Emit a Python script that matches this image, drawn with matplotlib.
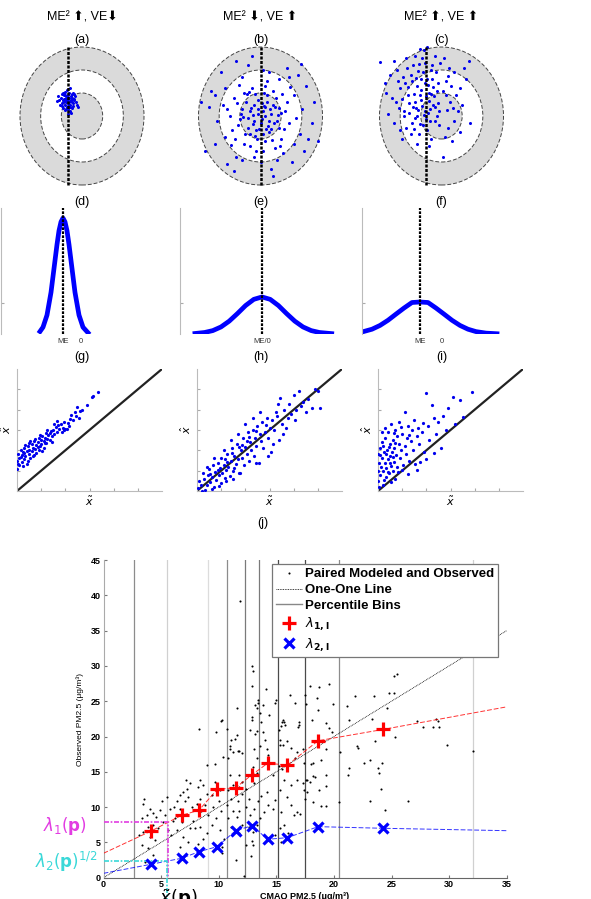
import matplotlib
matplotlib.use("Agg")
import matplotlib.pyplot as plt
from matplotlib.patches import Circle
from matplotlib.lines import Line2D

plt.rcParams['font.family'] = ['Liberation Sans', 'DejaVu Sans']
plt.rcParams['mathtext.fontset'] = 'dejavusans'

W, H = 591, 899

# ---------------- data ----------------
titles = ['ME² ⬆, VE⬇', 'ME² ⬇, VE ⬆', 'ME² ⬆, VE ⬆']
row1_tags = ['(a)', '(b)', '(c)']
row2_tags = ['(d)', '(e)', '(f)']
row3_tags = ['(g)', '(h)', '(i)']

# target diagrams: position of ME line and the scatter clouds
target_me = [-0.68, 0.0, -0.75]
a_pts = [(-0.9, 0.7), (-0.7, 0.9), (-0.5, 0.6), (-0.6, 0.4), (-0.8, 0.5), (-1.0, 0.8), (-0.4, 0.75),
         (-0.65, 1.0), (-0.75, 0.3), (-0.55, 0.85), (-0.85, 0.65), (-0.95, 0.55), (-0.45, 0.45),
         (-0.7, 0.6), (-0.6, 0.2), (-0.8, 1.05), (-1.1, 0.7), (-0.3, 0.6), (-0.5, 0.95), (-0.9, 0.35),
         (-0.7, 0.75), (-0.62, 0.5), (-0.78, 0.85), (-0.58, 0.65), (-0.88, 0.9), (-0.48, 0.35),
         (-1.05, 0.5), (-0.35, 0.85), (-0.72, 1.15), (-0.66, 0.45), (-0.82, 0.25), (-0.52, 0.7),
         (-0.92, 1.0), (-0.42, 0.55), (-0.76, 0.6), (-0.64, 0.8), (-1.2, 0.65), (-0.25, 0.5),
         (-0.68, 0.1), (-0.86, 0.75), (-0.56, 0.5), (-0.74, 0.4), (-0.98, 0.95), (-0.38, 0.7),
         (-0.6, 1.2), (-0.8, 0.65), (-0.5, 0.8), (-0.7, 0.55), (-1.15, 0.85), (-0.2, 0.4),
         (-0.9, 0.6), (-0.45, 1.0), (-0.66, 0.3), (-0.84, 0.9), (-0.54, 0.15), (-0.72, 0.7),
         (-0.62, 0.6), (-0.96, 0.45), (-0.4, 0.95), (-0.78, 0.8)]
b_pts = [(0.1, 0.2), (-0.3, 0.5), (0.4, -0.2), (-0.6, -0.1), (0.7, 0.4), (-0.2, -0.6), (0.3, 0.9),
         (-0.9, 0.3), (0.9, -0.5), (-0.5, -0.8), (0.2, -1.1), (-1.1, -0.4), (1.2, 0.2), (-0.4, 1.2),
         (0.6, 1.1), (-1.3, 0.8), (1.0, -1.0), (-0.8, -1.2), (0.0, -0.3), (0.5, 0.1), (-0.1, 0.7),
         (0.8, -0.2), (-0.7, 0.6), (0.2, 0.4), (-0.3, -0.2), (0.4, -0.7), (-0.5, 0.2), (0.1, -0.8),
         (1.4, -0.3), (-1.5, 0.0), (0.3, 1.5), (-0.2, -1.5), (1.6, 0.9), (-1.7, -0.9), (0.9, 1.6),
         (-0.9, 1.7), (1.1, -1.6), (-1.2, -1.8), (2.0, 0.3), (-2.1, -0.2), (0.1, 2.0), (0.0, -2.0),
         (2.3, -1.0), (-2.4, 1.1), (1.8, 1.8), (-1.9, 1.9), (1.5, -2.0), (-1.6, -2.1), (2.6, 0.6),
         (-2.7, -1.5), (0.5, -2.3), (-0.6, 2.2), (1.9, -0.8), (-1.8, 0.5), (0.7, -1.4), (-0.8, 1.0),
         (1.3, 0.6), (-1.4, -0.6), (0.6, 0.5), (-0.6, -0.5), (0.2, 0.0), (-0.1, 0.3), (0.35, -0.45),
         (-0.45, 0.35), (0.15, 1.0), (-0.15, -1.0), (1.0, 0.15), (-1.0, -0.15), (0.55, -1.05),
         (-0.55, 1.05), (0.75, 0.8), (-0.75, -0.8), (1.15, -0.55), (-1.15, 0.55), (0.05, 0.55),
         (-0.05, -0.55), (0.45, 0.3), (-0.35, -0.35), (0.25, -0.55), (-0.25, 0.95), (0.85, 0.05),
         (-0.85, -0.05), (1.7, -0.1), (-1.6, 0.3), (0.4, 1.9), (-0.3, -1.8), (2.2, 1.3), (-2.2, -1.2),
         (1.3, 2.1), (-1.2, 2.4), (2.5, -0.3), (-2.5, 0.4), (0.8, -1.9), (-0.9, -1.9), (1.45, 1.25),
         (-1.45, -1.25), (0.65, -0.3), (-0.65, 0.95), (0.3, 0.6), (-0.35, 0.05), (0.05, -0.15),
         (1.05, 0.95), (-1.05, 1.35), (0.95, -1.3), (-1.25, -1.0), (0.2, 1.3), (-0.5, -1.3),
         (1.6, -1.2), (-1.7, 1.2), (0.1, -1.5), (2.8, -1.1), (-2.9, 0.6), (1.4, 1.7), (-0.4, 2.6),
         (0.6, -2.6), (-1.3, -2.4), (1.95, 2.25), (2.1, -1.5), (-2.2, 0.9), (0.9, 0.35), (-0.95, 0.1),
         (0.5, -0.55), (-0.25, -0.85), (0.15, 0.45), (-0.1, 0.1)]
c_pts = [(-1.0, 0.7), (-0.6, 1.0), (-1.4, 0.4), (-0.8, 0.2), (-1.2, 1.3), (-0.4, 0.5), (-1.6, 0.9),
         (-0.7, 1.6), (-1.3, -0.1), (-0.2, 1.1), (-1.8, 0.2), (-0.9, -0.4), (-0.1, 0.2), (-1.5, 1.8),
         (-0.5, 2.0), (-2.0, 1.2), (0.2, 1.5), (-1.1, -0.8), (-2.2, 0.6), (0.4, 0.6), (-0.3, -0.2),
         (-1.7, -0.5), (-0.8, 2.3), (-1.3, 2.6), (-1.05, 2.9), (-0.85, 2.85), (-2.5, 1.8),
         (-2.98, 2.35), (-2.7, 1.0), (0.6, 1.9), (1.33, 2.4), (0.9, 1.2), (0.3, -0.5), (-0.5, -1.0),
         (0.07, -1.8), (-0.6, -1.3), (0.5, -1.1), (-2.3, -0.3), (-1.9, -1.0), (0.8, 0.2), (-1.2, 0.0),
         (-0.95, 0.45), (-0.75, 0.85), (-1.35, 0.95), (-1.15, 0.25), (-0.55, 0.3), (-1.55, 0.55),
         (-0.65, 1.35), (-1.25, 1.65), (-0.35, 0.85), (-1.75, 1.45), (-0.45, 1.6), (-1.45, -0.3),
         (-0.15, 0.55), (-2.05, 0.35), (-0.25, 1.9), (-1.65, 2.1), (0.05, 1.1), (-2.4, 0.8),
         (0.25, 0.25), (-0.9, 1.9), (-1.05, -0.35), (-0.7, -0.6), (-1.85, 1.7), (0.45, 1.3),
         (-2.15, 2.0), (-0.05, 2.3), (0.7, 0.9), (-1.4, 2.2), (-0.3, 2.6), (1.0, 0.5), (1.2, 1.6),
         (-2.6, 0.1), (-1.0, 1.15), (-1.3, 0.6), (-0.85, 0.05), (-0.6, 0.65), (-1.6, 1.25),
         (-0.4, 1.25), (-1.9, 0.75), (-0.2, 0.0), (-1.15, 1.95), (-0.55, -0.2), (-2.0, -0.6),
         (0.15, -0.9), (-0.1, -0.4), (-0.95, 2.5), (-1.7, 2.5), (0.35, 2.1), (0.1, 2.5), (-2.3, 2.4),
         (-1.5, -0.8), (0.6, -0.2), (1.4, -0.3), (0.9, -0.7), (-0.7, 3.0), (-1.2, -1.2), (-2.75, 1.45),
         (1.1, 2.1), (-0.8, 1.45), (-1.05, 0.9), (-1.25, 0.35), (-0.5, 0.95), (-1.45, 1.5),
         (-0.65, 0.15), (-1.8, 0.0), (-0.3, 0.4), (-1.0, 1.6), (-2.1, 1.5), (0.2, 0.9), (-0.75, -0.15),
         (-1.35, -0.55), (0.55, 0.35), (-0.15, 1.45), (-1.1, 2.25), (-0.45, 2.2), (-1.55, 0.15),
         (0.3, 1.75)]
target_pts = [a_pts, b_pts, c_pts]

# error distributions
dist_me = [-0.9, 0.0, -1.1]
d_x = [-2.05, -1.9, -1.7, -1.5, -1.35, -1.2, -1.1, -1.0, -0.9, -0.8, -0.7, -0.6, -0.45, -0.3, -0.1, 0.1, 0.35]
d_y = [0.02, 0.054, 0.15, 0.33, 0.52, 0.71, 0.82, 0.89, 0.92, 0.89, 0.82, 0.71, 0.52, 0.33, 0.15, 0.054, 0.01]
e_x = [-3.27, -2.8, -2.4, -2.0, -1.6, -1.2, -0.8, -0.4, 0.0, 0.4, 0.8, 1.2, 1.6, 2.0, 2.4, 2.8, 3.4]
e_y = [0.004, 0.012, 0.027, 0.056, 0.102, 0.162, 0.226, 0.275, 0.294, 0.275, 0.226, 0.162, 0.102, 0.056, 0.027, 0.012, 0.003]
f_x = [-4.0, -3.5, -3.1, -2.7, -2.3, -1.9, -1.5, -1.1, -0.7, -0.3, 0.1, 0.5, 0.9, 1.3, 1.7, 2.2, 2.75]
f_y = [0.016, 0.038, 0.068, 0.109, 0.158, 0.206, 0.25, 0.254, 0.25, 0.206, 0.158, 0.109, 0.068, 0.038, 0.019, 0.007, 0.002]
dist_curves = [(d_x, d_y), (e_x, e_y), (f_x, f_y)]
dist_ticks = [[-0.9, 0.0], [0.0], [-1.1, 0.0]]
dist_ticklabels = [['ME', '0'], ['ME/0'], ['ME', '0']]

# modeled vs observed scatter
g_pts = [(0.0, 1.1), (0.0, 1.5), (0.05, 1.8), (0.1, 1.3), (0.1, 1.6), (0.15, 2.0), (0.2, 1.45), (0.2, 1.75),
         (0.25, 1.9), (0.3, 1.55), (0.3, 2.1), (0.35, 1.7), (0.4, 1.95), (0.4, 1.35), (0.45, 2.2), (0.5, 1.8),
         (0.5, 2.0), (0.55, 1.6), (0.6, 2.3), (0.6, 1.95), (0.65, 2.1), (0.7, 1.75), (0.7, 2.45), (0.75, 2.05),
         (0.8, 2.25), (0.8, 1.85), (0.85, 2.4), (0.9, 2.0), (0.9, 2.6), (0.95, 2.2), (1.0, 2.5), (1.0, 2.3),
         (1.05, 2.7), (1.1, 2.45), (1.1, 2.1), (1.15, 2.6), (1.2, 2.35), (1.2, 2.85), (1.25, 2.55), (1.3, 2.75),
         (1.35, 2.5), (1.4, 2.95), (1.45, 2.7), (1.5, 3.0), (1.55, 2.8), (1.6, 3.15), (1.65, 2.9), (1.7, 3.25),
         (1.75, 3.05), (1.8, 3.3), (1.9, 3.1), (1.95, 3.4), (2.0, 3.05), (2.05, 3.05), (2.1, 3.35), (2.2, 3.55),
         (2.25, 3.75), (2.3, 3.5), (2.4, 3.9), (2.45, 3.7), (2.5, 4.15), (2.6, 3.95), (2.7, 4.0), (2.9, 4.25),
         (3.1, 4.6), (3.15, 4.65), (3.35, 4.85), (0.25, 1.25), (0.45, 1.5), (0.15, 1.65), (0.35, 2.25),
         (0.55, 2.45), (0.65, 1.7), (0.75, 2.55), (0.95, 2.75), (1.05, 1.95), (1.25, 3.0), (1.45, 2.4),
         (1.55, 3.3), (1.85, 2.9), (0.05, 1.35), (0.3, 1.85), (0.5, 2.35), (0.85, 2.15), (1.15, 2.35),
         (1.35, 2.85), (1.65, 3.45), (2.15, 3.2), (2.55, 3.6), (1.95, 3.0)]
h_pts = [(0.05, 0.15), (0.1, 0.5), (0.2, 0.0), (0.3, 0.6), (0.25, 0.9), (0.4, 0.3), (0.45, 0.8), (0.5, 1.1),
         (0.55, 0.45), (0.6, 0.7), (0.65, 1.3), (0.7, 0.2), (0.75, 0.95), (0.8, 0.55), (0.85, 1.4), (0.9, 0.8),
         (0.95, 1.15), (1.0, 0.4), (1.0, 1.6), (1.05, 0.9), (1.1, 1.3), (1.15, 0.65), (1.2, 1.05), (1.25, 1.8),
         (1.3, 1.2), (1.35, 0.75), (1.4, 1.5), (1.45, 2.1), (1.5, 1.0), (1.55, 1.7), (1.6, 1.35), (1.65, 2.3),
         (1.7, 1.55), (1.75, 0.9), (1.8, 2.0), (1.85, 1.6), (1.9, 2.6), (1.95, 1.3), (2.0, 2.15), (2.05, 1.8),
         (2.1, 2.9), (2.15, 1.5), (2.2, 2.4), (2.25, 2.0), (2.3, 3.0), (2.35, 1.7), (2.4, 2.6), (2.45, 2.2),
         (2.5, 3.2), (2.55, 1.4), (2.6, 2.8), (2.65, 2.45), (2.7, 3.4), (2.75, 2.1), (2.8, 2.9), (2.9, 3.6),
         (2.95, 2.6), (3.0, 3.1), (3.05, 1.9), (3.1, 3.5), (3.15, 2.3), (3.2, 3.0), (3.3, 3.7), (3.4, 2.5),
         (3.5, 3.3), (3.6, 4.0), (3.7, 3.1), (3.8, 4.3), (3.9, 3.8), (4.0, 4.7), (4.05, 3.5), (4.2, 4.9),
         (4.3, 4.2), (4.5, 3.9), (4.6, 4.5), (4.75, 4.1), (4.9, 5.0), (5.0, 4.9), (5.1, 4.1), (2.46, 1.36),
         (1.78, 0.87), (0.35, 0.05), (0.15, 0.3), (0.6, 0.1), (0.9, 0.25), (1.2, 0.5), (1.5, 0.6), (0.4, 1.2),
         (0.7, 1.6), (1.1, 2.0), (1.4, 2.5), (1.7, 2.8), (2.0, 3.3), (2.3, 3.6), (2.6, 3.9), (1.25, 1.45),
         (1.55, 1.15), (1.85, 2.25), (2.15, 2.65), (2.45, 2.95), (0.55, 0.85), (0.85, 1.05), (1.15, 1.55),
         (1.45, 1.85), (1.75, 2.15), (2.05, 2.45), (3.25, 3.9), (3.55, 2.8), (2.85, 3.25), (3.35, 4.3),
         (2.95, 1.7), (3.45, 4.55), (4.1, 4.0), (4.4, 4.4), (3.75, 3.6)]
i_pts = [(0.0, 0.5), (0.02, 1.0), (0.05, 1.4), (0.0, 1.8), (0.08, 2.1), (0.1, 0.8), (0.12, 1.2), (0.15, 1.6),
         (0.18, 2.4), (0.2, 0.3), (0.22, 1.0), (0.25, 1.9), (0.28, 1.4), (0.3, 2.6), (0.32, 0.7), (0.35, 1.15),
         (0.38, 2.0), (0.4, 1.55), (0.42, 2.9), (0.45, 0.9), (0.48, 1.7), (0.5, 2.3), (0.52, 1.25), (0.55, 3.3),
         (0.58, 1.9), (0.6, 1.0), (0.62, 2.5), (0.65, 1.45), (0.68, 2.1), (0.7, 3.0), (0.72, 0.6), (0.75, 1.75),
         (0.78, 2.7), (0.8, 1.2), (0.85, 2.3), (0.88, 3.4), (0.9, 1.6), (0.95, 2.0), (1.0, 2.8), (1.05, 1.3),
         (1.1, 3.88), (1.12, 2.2), (1.15, 1.8), (1.2, 2.6), (1.25, 3.2), (1.3, 1.5), (1.35, 2.45), (1.4, 3.0),
         (1.45, 2.0), (1.5, 3.5), (1.55, 1.35), (1.6, 2.7), (1.65, 3.1), (1.7, 2.3), (1.8, 2.9), (1.87, 3.33),
         (1.9, 1.9), (1.99, 4.81), (2.05, 3.2), (2.1, 2.5), (2.24, 4.24), (2.3, 3.6), (2.4, 2.8), (2.5, 3.4),
         (2.6, 2.1), (2.7, 3.7), (2.8, 3.0), (2.9, 4.1), (3.12, 4.61), (3.2, 3.3), (3.4, 4.48), (3.5, 3.63),
         (3.87, 4.86), (0.05, 0.2), (0.15, 2.9), (0.25, 0.55), (0.3, 3.1), (0.45, 2.15), (0.55, 0.45),
         (0.6, 1.65), (0.7, 2.35), (0.82, 0.95), (1.0, 1.05), (1.25, 0.85), (1.6, 1.05), (0.1, 1.75),
         (0.35, 1.8), (0.65, 2.85), (0.95, 3.15), (1.3, 2.75), (2.0, 1.55), (2.3, 1.85), (1.75, 1.45),
         (0.2, 2.2), (0.4, 0.95), (0.5, 1.4)]
pair_pts = [g_pts, h_pts, i_pts]

# (j) CMAQ vs observed PM2.5
bins = [2.67, 5.48, 9.04, 10.68, 12.27, 13.51, 15.16, 17.48, 20.45, 32.07]
bin_shades = ['#8c8c8c', '#d0d0d0', '#dcdcdc', '#8c8c8c', '#7a7a7a', '#7a7a7a', '#4a4a4a', '#4a4a4a', '#8c8c8c', '#d0d0d0']
lam_x = [4.12, 6.78, 8.28, 9.87, 11.47, 12.9, 14.24, 15.97, 18.63, 24.27]
lam1 = [6.6, 8.84, 9.55, 12.5, 12.75, 14.6, 16.2, 15.96, 19.4, 21.0]
lam2 = [1.9, 2.75, 3.68, 4.4, 6.66, 7.37, 5.44, 5.67, 7.23, 7.0]
lam1_ends = [3.46, 24.2]   # fitted line at x=0 and x=35
lam2_ends = [0.62, 6.66]
p_x = 5.57
lam1_p = 7.93
p_x2 = 5.48
lam2_p = 2.41
j_pts = [(3.54, 11.1), (3.45, 10.4), (4.03, 9.8), (4.32, 9.1), (3.74, 8.9), (3.3, 8.4), (4.6, 8.6), (4.32, 7.5),
         (3.9, 7.2), (4.75, 7.0), (3.45, 6.5), (4.03, 5.8), (4.47, 5.3), (3.3, 4.6), (3.9, 4.2), (4.32, 3.2),
         (3.6, 2.2), (4.9, 9.6), (5.2, 7.9), (3.1, 6.0),
         (5.48, 11.5), (5.05, 10.8), (5.8, 9.8), (5.3, 8.9), (6.0, 8.0), (5.6, 6.7), (5.9, 6.0),
         (7.16, 13.8), (7.5, 13.4), (7.27, 12.5), (6.9, 12.2), (6.64, 11.7), (7.36, 11.5), (6.35, 10.8),
         (7.07, 10.8), (7.65, 10.0), (6.1, 10.0), (6.64, 9.7), (7.2, 8.9), (6.2, 8.4), (6.8, 7.9), (7.5, 7.0),
         (6.35, 6.7), (6.9, 5.8), (7.36, 5.1), (6.64, 4.4),
         (8.37, 13.8), (8.66, 13.1), (8.23, 12.8), (8.95, 11.9), (8.37, 11.2), (8.08, 10.5), (8.8, 10.3),
         (8.5, 9.4), (9.1, 8.9), (7.8, 8.0), (8.37, 7.2), (7.94, 7.0), (8.95, 6.3), (8.66, 5.5), (8.23, 4.8),
         (8.25, 21.1), (9.75, 20.6), (9.67, 16.1), (8.95, 16.0),
         (9.67, 13.6), (10.1, 12.4), (9.4, 11.7), (10.0, 10.8), (9.5, 10.0), (10.16, 9.4), (9.8, 8.4),
         (9.4, 7.5), (10.1, 6.7), (10.45, 5.5), (10.25, 4.4), (10.3, 3.5),
         (10.16, 22.2), (10.3, 22.3), (10.68, 21.06), (10.4, 17.1), (10.83, 17.0), (10.97, 18.3),
         (11.26, 17.8), (11.78, 17.9), (11.55, 20.2), (11.4, 19.6), (11.05, 19.5), (11.0, 18.6), (11.7, 17.9),
         (12.0, 17.6), (11.84, 39.2), (11.55, 24.1),
         (11.8, 14.5), (12.0, 13.6), (11.8, 12.8), (12.0, 11.9), (11.7, 10.8), (11.8, 9.4), (11.55, 8.6),
         (12.0, 7.5), (11.8, 6.3), (12.4, 4.6),
         (11.0, 14.5), (11.26, 13.1), (10.83, 12.4), (11.1, 11.2), (10.68, 10.3), (11.26, 9.4), (10.83, 8.4),
         (11.1, 7.2), (11.5, 2.5), (12.2, 0.3),
         (12.7, 20.9), (12.85, 22.8), (12.9, 22.3), (13.14, 20.3), (13.3, 20.8), (13.4, 24.8), (13.3, 24.1),
         (13.14, 24.5), (12.85, 30.0), (12.94, 29.3), (12.85, 27.1), (13.4, 25.2),
         (13.1, 18.3), (13.3, 17.0), (13.0, 15.7), (13.3, 14.8), (13.1, 13.4), (13.4, 10.8), (13.1, 9.8),
         (13.3, 7.5), (13.0, 6.5), (12.85, 5.2), (13.0, 4.6), (12.8, 3.1),
         (12.4, 12.6), (12.6, 11.2), (12.4, 10.0), (12.7, 8.9), (12.6, 7.2),
         (13.7, 22.0), (13.6, 18.6), (14.15, 18.3), (14.3, 17.4), (13.87, 20.6), (14.0, 19.5), (14.4, 23.1),
         (14.1, 26.7), (13.86, 24.5), (13.6, 23.3),
         (14.7, 14.6), (14.15, 12.1), (13.7, 11.6), (14.3, 10.3), (13.9, 9.35), (13.6, 8.4), (14.9, 11.0),
         (14.7, 9.8), (14.9, 6.0), (15.0, 25.2), (14.9, 24.8),
         (15.45, 21.5), (15.7, 22.0), (17.0, 21.6), (15.3, 18.8), (15.9, 19.3), (16.3, 18.4), (16.8, 17.8),
         (17.3, 18.3), (16.6, 17.0), (15.2, 15.8), (15.5, 15.4),
         (15.7, 13.9), (16.3, 13.2), (16.8, 13.9), (17.3, 13.4), (15.3, 12.4), (15.9, 11.5), (16.3, 10.3),
         (16.8, 9.35), (15.45, 9.35), (16.5, 8.9),
         (15.3, 7.0), (15.7, 7.5), (15.45, 5.1), (15.2, 20.9), (15.5, 22.0), (15.6, 22.3), (15.75, 21.6),
         (15.3, 19.5), (15.6, 18.8), (16.9, 21.4), (17.0, 22.0), (16.2, 25.9), (16.6, 24.7), (17.1, 9.0),
         (16.0, 6.3),
         (18.06, 22.3), (19.35, 21.9), (19.58, 21.25), (19.84, 20.6), (17.4, 16.3), (18.2, 16.2), (18.0, 16.1),
         (18.9, 16.7), (19.3, 18.2), (18.2, 14.4), (18.4, 14.2), (19.3, 14.5), (17.6, 13.8), (17.7, 13.9),
         (17.9, 13.5), (19.3, 13.0), (17.4, 12.4), (17.7, 12.1), (18.7, 12.4), (17.5, 11.1), (18.2, 10.7),
         (18.9, 10.2), (19.3, 10.2), (20.4, 10.7), (20.5, 17.8),
         (19.6, 27.5), (18.7, 27.0), (17.5, 25.9), (18.5, 25.5), (17.6, 24.6), (19.9, 24.6), (18.6, 23.8),
         (17.9, 27.1),
         (21.3, 22.3), (23.3, 22.5), (27.2, 22.2), (28.9, 22.5), (29.0, 22.2), (27.7, 21.3), (28.6, 21.4),
         (29.1, 21.4), (25.3, 20.0), (23.6, 19.4), (22.0, 18.6), (22.1, 18.4), (29.8, 18.8), (32.1, 18.0),
         (23.1, 16.7), (22.6, 16.3), (24.2, 16.3), (23.8, 15.5), (21.3, 15.5), (21.2, 14.6), (23.9, 14.9),
         (24.1, 12.6), (23.1, 10.9), (26.4, 10.9), (24.4, 9.6),
         (25.2, 28.6), (25.5, 28.8), (24.8, 26.2), (25.2, 26.2), (21.8, 25.8), (23.5, 25.8), (21.1, 24.3),
         (24.6, 24.0)]


def box(l, t, r, b):
    # pixel box (from top-left) -> figure fraction
    return [l / W, 1 - b / H, (r - l) / W, (b - t) / H]


def fx(px):
    return px / W


def fy(py):
    return 1 - py / H


fig = plt.figure(figsize=(W / 100, H / 100), dpi=100)
blue = '#0000ff'

# ---------- row 1: targets ----------
centers = [82, 260.5, 441.5]
for k in range(3):
    cx = centers[k]
    ax = fig.add_axes(box(cx - 68.2, 116 - 75.9, cx + 68.2, 116 + 75.9))
    ax.set_xlim(-3.3, 3.3)
    ax.set_ylim(-3.3, 3.3)
    ax.axis('off')
    for r, fc in zip([3, 2, 1], ['#dadada', 'white', '#dadada']):
        ax.add_patch(Circle((0, 0), r, facecolor=fc, edgecolor='#444444', lw=0.7, ls=(0, (4, 2))))
    xs, ys = zip(*target_pts[k])
    ax.plot(xs, ys, 'o', color='#0000ee', ms=2.2, mew=0, zorder=3, clip_on=False)
    ax.plot([target_me[k]] * 2, [-3, 3], color='k', lw=1.8, ls=(0, (1.2, 0.6)), zorder=4)
    fig.text(fx(cx), fy(17), titles[k], ha='center', va='center', fontsize=9)
    fig.text(fx(cx), fy(40), row1_tags[k], ha='center', va='center', fontsize=9)

# ---------- row 2: error distributions ----------
lefts2 = [(1, 161), (180, 344), (362, 522)]
for k in range(3):
    l, r = lefts2[k]
    ax = fig.add_axes(box(l, 208, r, 334))
    ax.set_xlim(-4, 4)
    ax.set_ylim(0, 1)
    cx_, cy_ = dist_curves[k]
    ax.plot(cx_, cy_, color=blue, lw=3.4, solid_joinstyle='round')
    ax.axvline(dist_me[k], color='k', lw=1.6, ls=(0, (1.2, 0.6)))
    for s in ['top', 'right', 'bottom']:
        ax.spines[s].set_visible(False)
    ax.spines['left'].set_color('#bbbbbb')
    ax.spines['left'].set_linewidth(0.8)
    ax.set_yticks([0.246])
    ax.set_yticklabels([])
    ax.tick_params(axis='y', direction='in', length=2, color='#aaaaaa')
    ax.set_xticks(dist_ticks[k])
    ax.set_xticklabels(dist_ticklabels[k], fontsize=5.5, color='#333333')
    ax.tick_params(axis='x', length=0, pad=3)
    fig.text(fx(centers[k]), fy(202), row2_tags[k], ha='center', va='center', fontsize=9)

# ---------- row 3: modeled vs observed ----------
lefts3 = [17, 197, 378]
for k in range(3):
    l = lefts3[k]
    ax = fig.add_axes(box(l, 369, l + 145, 491))
    ax.set_xlim(0, 6)
    ax.set_ylim(0, 6)
    ax.plot([0, 6], [0, 6], color='#222222', lw=1.6, zorder=2)
    xs, ys = zip(*pair_pts[k])
    ax.plot(xs, ys, 'o', color='#0000ee', ms=2.3, mew=0, zorder=3)
    for s in ['top', 'right']:
        ax.spines[s].set_visible(False)
    for s in ['left', 'bottom']:
        ax.spines[s].set_color('#bbbbbb')
        ax.spines[s].set_linewidth(0.8)
    ax.set_xticks([1, 2, 3, 4, 5])
    ax.set_xticklabels(['', '', r'$\tilde{x}$', '', ''], fontsize=8)
    ax.set_yticks([1, 2, 3, 4, 5])
    ax.set_yticklabels(['', '', r'$\hat{x}$', '', ''], fontsize=8, rotation=90, va='center')
    ax.tick_params(direction='in', length=2, color='#aaaaaa', pad=3)
    fig.text(fx(centers[k]), fy(357), row3_tags[k], ha='center', va='center', fontsize=9)

fig.text(fx(263), fy(523), '(j)', ha='center', va='center', fontsize=9)

# ---------- (j) main panel ----------
ax = fig.add_axes(box(103.5, 560, 506.7, 877.7))
ax.set_xlim(0, 35)
ax.set_ylim(0, 45)
for b, c in zip(bins, bin_shades):
    ax.axvline(b, color=c, lw=0.9, zorder=1)
ax.plot([0, 35], [0, 35], color='k', lw=0.6, ls=(0, (1, 1)), zorder=2)
jx, jy = zip(*j_pts)
ax.plot(jx, jy, 'o', color='k', ms=1.5, mew=0, zorder=3)
ax.plot([0] + lam_x + [35], [lam1_ends[0]] + lam1 + [lam1_ends[1]],
        color='red', lw=0.7, ls=(0, (5, 2)), alpha=0.8, zorder=4)
ax.plot([0] + lam_x + [35], [lam2_ends[0]] + lam2 + [lam2_ends[1]],
        color='blue', lw=0.7, ls=(0, (5, 2)), alpha=0.8, zorder=4)
ax.plot(lam_x, lam1, '+', color='red', ms=10, mew=2.3, zorder=5)
ax.plot(lam_x, lam2, 'x', color='blue', ms=7, mew=2.3, zorder=5)

mag = '#e23ce2'
cya = '#3ad8d8'
ax.plot([0, p_x, p_x], [lam1_p, lam1_p, 0], color=mag, lw=1.2, ls=(0, (3, 1, 1, 1)), zorder=4)
ax.plot([0, p_x2, p_x2], [lam2_p, lam2_p, -3.1], color=cya, lw=1.2, ls=(0, (3, 1, 1, 1)),
        zorder=4, clip_on=False)

ax.set_xticks(range(0, 36, 5))
ax.set_yticks(range(0, 46, 5))
ax.tick_params(labelsize=6.5, direction='in', length=2.5, color='#777777', pad=2)
for lbl in ax.get_xticklabels() + ax.get_yticklabels():
    lbl.set_fontweight('bold')
for s in ['top', 'right']:
    ax.spines[s].set_visible(False)
ax.spines['left'].set_color('#aaaaaa')
ax.spines['bottom'].set_color('#666666')

handles = [Line2D([], [], marker='o', ls='none', color='k', ms=1.5, mew=0),
           Line2D([], [], color='k', lw=0.6, ls=(0, (1, 1))),
           Line2D([], [], color='#888888', lw=1.0),
           Line2D([], [], marker='+', ls='none', color='red', ms=10, mew=2.3),
           Line2D([], [], marker='x', ls='none', color='blue', ms=7, mew=2.3)]
labels = ['Paired Modeled and Observed', 'One-One Line', 'Percentile Bins',
          r'$\lambda_{\mathbf{1,l}}$', r'$\lambda_{\mathbf{2,l}}$']
leg = ax.legend(handles, labels, loc='upper left', bbox_to_anchor=(fx(271.7), fy(564)),
                bbox_transform=fig.transFigure, borderaxespad=0, fancybox=False, framealpha=1,
                edgecolor='#777777', prop={'weight': 'bold', 'size': 9.5}, handlelength=2.0,
                handletextpad=0.2, labelspacing=0.28, borderpad=0.3)
leg.get_frame().set_linewidth(0.9)
leg.set_zorder(10)

fig.text(fx(80), fy(719), 'Observed PM2.5 (μg/m³)', rotation=90, ha='center', va='center', fontsize=6)
fig.text(fx(305), fy(892), 'CMAQ PM2.5 (μg/m³)', ha='center', va='top', fontsize=6.5, weight='bold')
fig.text(fx(65), fy(826), r'$\lambda_1(\mathbf{p})$', color=mag, ha='center', va='center', fontsize=12)
fig.text(fx(66), fy(862), r'$\lambda_2(\mathbf{p})^{1/2}$', color=cya, ha='center', va='center', fontsize=12)
fig.text(fx(178), fy(888), r'$\tilde{x}(\mathbf{p})$', color='k', ha='center', va='top', fontsize=13)

fig.savefig('out.png', dpi=100)
